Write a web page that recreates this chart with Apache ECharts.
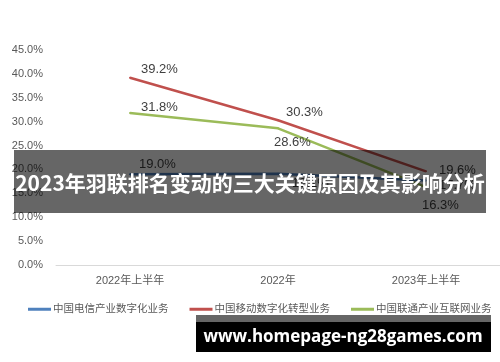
<!DOCTYPE html>
<html><head><meta charset="utf-8">
<script src="https://cdn.jsdelivr.net/npm/echarts@6/dist/echarts.min.js"></script>
<style>html,body{margin:0;padding:0;background:#fff}#c{width:500px;height:362px}</style>
</head><body><div id="c"></div>
<script>
const categories = ['2022年上半年', '2022年', '2023年上半年'];
const seriesNames = ['中国电信产业数字化业务', '中国移动数字化转型业务', '中国联通产业互联网业务'];
const telecom = [19.0, 19.1, 17.7];
const mobile = [39.2, 30.3, 19.6];
const unicom = [31.8, 28.6, 16.3];
const yTicks = [0, 5, 10, 15, 20, 25, 30, 35, 40, 45];
const titleText = '2023年羽联排名变动的三大关键原因及其影响分析';
const watermark = 'www.homepage-ng28games.com';

const colors = ['#4F81BD', '#C0504D', '#9BBB59'];
const labelOffsets = [
  [[3, -10], [8, 10], [7, 5]],
  [[5, -8], [2, -8], [7, -1]],
  [[5, -6], [-10, 14], [-10, 18]]
];
const FONT = "'Liberation Sans','Noto Sans CJK SC',sans-serif";
const allData = [telecom, mobile, unicom];

const chart = echarts.init(document.getElementById('c'));
chart.setOption({
  animation: false,
  backgroundColor: '#fff',
  textStyle: { fontFamily: FONT },
  grid: { left: 56, top: 50, width: 454, bottom: 97, containLabel: false },
  xAxis: {
    type: 'category', data: categories, boundaryGap: true,
    axisLine: { lineStyle: { color: '#D9D9D9', width: 1 } },
    axisTick: { show: false },
    axisLabel: { color: '#595959', fontSize: 11, margin: 10, fontFamily: FONT }
  },
  yAxis: {
    type: 'value', min: yTicks[0], max: yTicks[yTicks.length - 1], interval: 5,
    splitLine: { show: false }, axisLine: { show: false }, axisTick: { show: false },
    axisLabel: { color: '#595959', fontSize: 11, margin: 13, fontFamily: FONT,
      formatter: v => v.toFixed(1) + '%' }
  },
  legend: {
    left: 23, top: 299, itemWidth: 23, itemHeight: 3, itemGap: 21, icon: 'rect',
    textStyle: { color: '#595959', fontSize: 10.5, fontFamily: FONT, padding: [0, 0, 0, -3] },
    data: seriesNames
  },
  series: allData.map((arr, si) => ({
    name: seriesNames[si], type: 'line', data: arr.map((v, i) => ({
      value: v,
      label: { offset: labelOffsets[si][i] }
    })),
    symbol: 'circle', symbolSize: 2,
    itemStyle: { color: colors[si] },
    lineStyle: { color: colors[si], width: 2.5 },
    label: { show: true, position: 'right', distance: 5, color: '#404040', fontSize: 13,
      fontFamily: FONT, formatter: p => p.value.toFixed(1) + '%' },
    z: 3 - si
  })),
  graphic: [
    { type: 'rect', shape: { x: 14, y: 150, width: 472, height: 63 },
      style: { fill: 'rgba(0,0,0,0.6)' }, z: 100 },
    { type: 'text', x: 250, y: 183, z: 101,
      style: { text: titleText, fill: '#fff', font: "bold 21px 'Noto Sans CJK SC',sans-serif",
        textAlign: 'center', textVerticalAlign: 'middle' } },
    { type: 'rect', shape: { x: 196, y: 315, width: 295, height: 7 },
      style: { fill: '#666' }, z: 100 },
    { type: 'rect', shape: { x: 196, y: 322, width: 295, height: 30 },
      style: { fill: '#000' }, z: 100 },
    { type: 'text', x: 343, y: 337, z: 101,
      style: { text: watermark, fill: '#fff', font: "bold 17px 'Open Sans','DejaVu Sans',sans-serif",
        textAlign: 'center', textVerticalAlign: 'middle' } }
  ]
});
</script></body></html>
